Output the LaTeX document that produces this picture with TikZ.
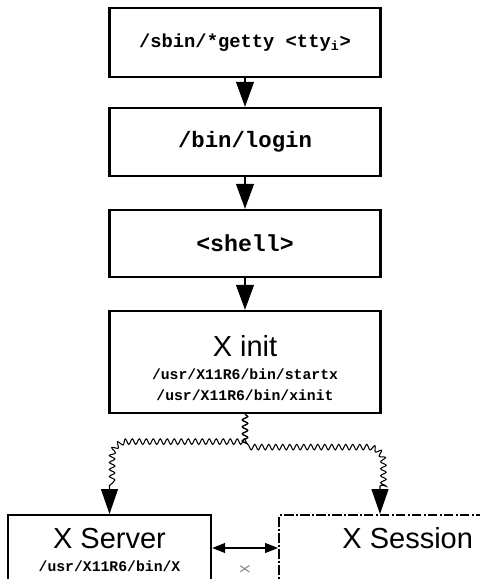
\documentclass[tikz,border=0pt]{standalone}
\usepackage{fontspec}
\setmainfont{Liberation Sans}
\setmonofont{Liberation Mono}
\usetikzlibrary{arrows.meta,decorations.pathmorphing}

\newcommand{\bigsans}{\fontsize{16.5}{18}\selectfont}
\newcommand{\smalltt}{\ttfamily\bfseries\fontsize{8.4}{10}\selectfont}

\tikzset{
	procbox/.style={draw, line width=1.4pt, minimum width=5.42cm, inner sep=0pt},
	dashdot/.style={dash pattern=on 5.5pt off 1.2pt on 1.2pt off 1.2pt},
	flow/.style={line width=0.6pt, -{Triangle[length=0.5cm,width=0.36cm]}},
	spawn/.style={line width=0.6pt, decorate,
		decoration={snake, amplitude=0.055cm, segment length=0.14cm, post length=0.55cm},
		-{Triangle[length=0.5cm,width=0.34cm]}},
	link/.style={line width=0.6pt, {Triangle[length=0.26cm,width=0.2cm]}-{Triangle[length=0.26cm,width=0.2cm]}}
}

\begin{document}
\begin{tikzpicture}[x=0.02cm,y=-0.02cm]{
		\def\midx{245}
		\def\bend{0.3cm}
		\useasboundingbox (0,0) rectangle (480,579);
		\clip (0,0) rectangle (480,579);

		\node (getty) 	[procbox, minimum height=1.38cm, font=\ttfamily\bfseries\fontsize{10.7}{13}\selectfont] at (\midx,42.5) {/sbin/*getty <tty\textsubscript{i}>};
		\node (login) 	[procbox, minimum height=1.36cm, font=\ttfamily\bfseries\fontsize{12.7}{15}\selectfont] at (\midx,142) {/bin/login};
		\node (shell) 	[procbox, minimum height=1.34cm, font=\ttfamily\bfseries\fontsize{13.2}{15}\selectfont] at (\midx,243.5) {<shell>};
		\node (xinit) 	[procbox, minimum height=2.04cm, align=center] at (\midx,362)
			{\rule{0pt}{19pt}\bigsans X init\\[1pt] \smalltt /usr/X11R6/bin/startx\\ \smalltt /usr/X11R6/bin/xinit};

		\node (xserver) 	[procbox, anchor=north, minimum width=4.06cm, inner ysep=0.26cm, align=center] at (109.5,514)
			{\bigsans X Server\\[1pt] \smalltt /usr/X11R6/bin/X};
		\node (xsession) 	[procbox, dashdot, anchor=north west, minimum width=5.14cm, text height=0.66cm, text depth=1.5cm, font=\bigsans] at (278,514) {X Session};

		\draw[flow] (getty) -- (login);
		\draw[flow] (login) -- (shell);
		\draw[flow] (shell) -- (xinit);

		\coordinate (fork) 		at (\midx,443);
		\coordinate (session in) 	at (380,514);
		\coordinate (server bend) 	at (fork -| xserver.north);
		\coordinate (session bend) 	at (fork -| session in);
		\draw[spawn] (xinit.south) -- (fork) -- ([xshift=\bend]server bend)
			to[out=180,in=90] ([yshift=-\bend]server bend) -- (xserver.north);
		\draw[spawn] (xinit.south) -- (fork) -- ([xshift=-\bend]session bend)
			to[out=0,in=90] ([yshift=-\bend]session bend) -- (session in);

		\draw[link] ([yshift=-0.68cm]xserver.north east) -- ([yshift=-0.68cm]xsession.north west);
		\node (xproto) [rotate=90, text=gray, font=\ttfamily\fontsize{8}{9}\selectfont] at (\midx,569) {X};
	}\end{tikzpicture}
\end{document}
